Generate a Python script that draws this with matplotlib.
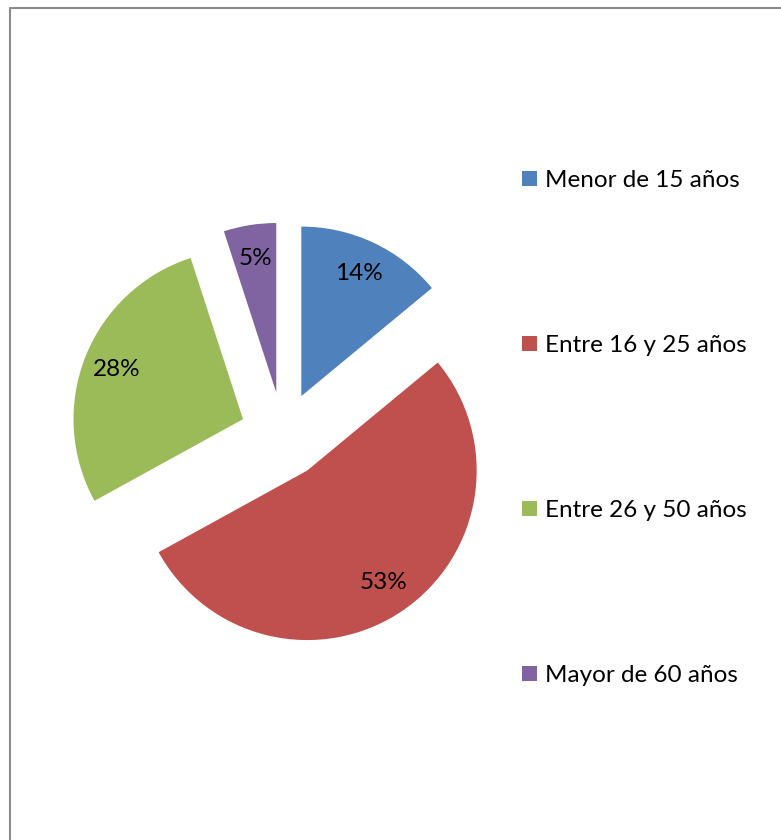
import matplotlib
matplotlib.use('Agg')
import matplotlib.pyplot as plt
from matplotlib.lines import Line2D

plt.rcParams['font.family'] = ['Lato', 'DejaVu Sans']

categories = ['Menor de 15 años', 'Entre 16 y 25 años', 'Entre 26 y 50 años', 'Mayor de 60 años']
values = [14, 53, 28, 5]
colors = ['#4F81BD', '#C0504D', '#9BBB59', '#8064A2']

W, H = 781, 840
fig = plt.figure(figsize=(W / 100, H / 100), dpi=100)
ax = fig.add_axes([0, 0, 1, 1])

# pie drawn in pixel units (y up), explode is in the same units
radius = 169.5
wedges, texts, autotexts = ax.pie(values, colors=colors, startangle=90, counterclock=False,
                                  explode=[43] * 4, radius=radius, center=(283, H - 435),
                                  autopct='%1.0f%%', pctdistance=0.8,
                                  textprops={'fontsize': 17.5, 'color': 'black'})
ax.set_xlim(0, W)
ax.set_ylim(0, H)
ax.set_aspect('equal')
ax.axis('off')

fig.legend(wedges, categories, loc='upper left', bbox_to_anchor=(522 / W, 1 - 170 / H),
           bbox_transform=fig.transFigure, frameon=False, fontsize=17.5,
           borderpad=0, borderaxespad=0, labelspacing=5.92,
           handlelength=0.62, handleheight=0.58, handletextpad=0.33)

# outer chart border
fig.add_artist(Line2D([10 / W, 10 / W, 1.0], [0, 1 - 8 / H, 1 - 8 / H],
                      transform=fig.transFigure, color='#8c8c8c', lw=1.5))

plt.savefig('out.png', dpi=100)
